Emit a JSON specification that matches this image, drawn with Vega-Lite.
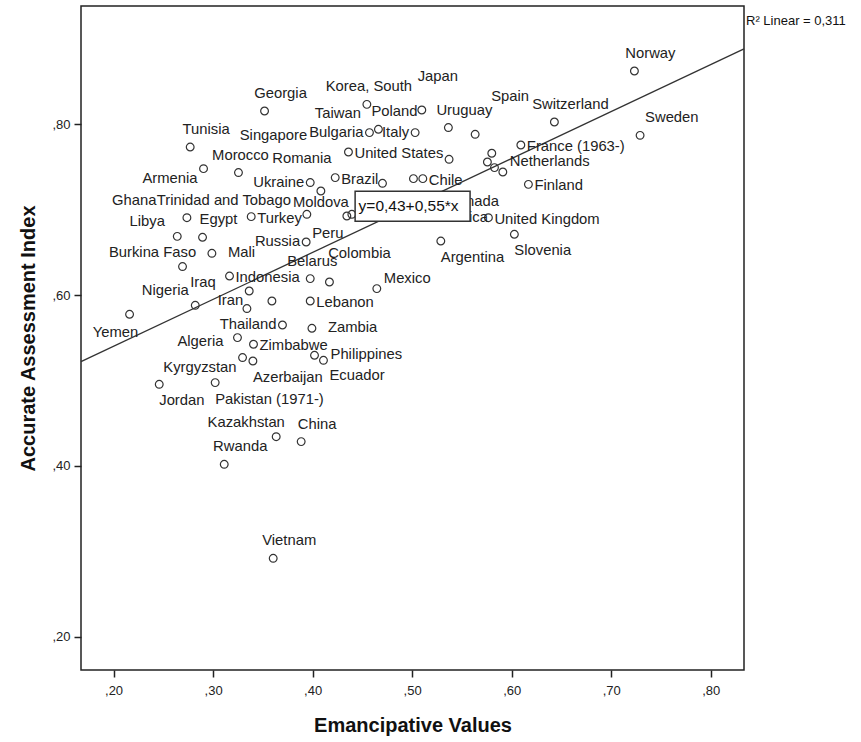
{
  "$schema": "https://vega.github.io/schema/vega-lite/v6.json",
  "width": 663,
  "height": 664,
  "autosize": {"type": "none"},
  "padding": {"left": 81, "top": 6, "right": 117, "bottom": 72},
  "background": "white",
  "config": {
    "view": {"stroke": "#222", "strokeWidth": 1.5},
    "text": {"font": "Liberation Sans", "fontSize": 14.8, "color": "#222", "baseline": "middle"}
  },
  "datasets": {
    "countries": [
      {"country": "Norway", "emancipative": 0.7233, "assessment": 0.8625},
      {"country": "Sweden", "emancipative": 0.7290, "assessment": 0.7871},
      {"country": "Switzerland", "emancipative": 0.6429, "assessment": 0.8027},
      {"country": "Spain", "emancipative": 0.5633, "assessment": 0.7883},
      {"country": "Japan", "emancipative": 0.5097, "assessment": 0.8168},
      {"country": "Korea, South", "emancipative": 0.4545, "assessment": 0.8234},
      {"country": "Taiwan", "emancipative": 0.4545, "assessment": 0.8234},
      {"country": "Poland", "emancipative": 0.4661, "assessment": 0.7942},
      {"country": "Bulgaria", "emancipative": 0.4571, "assessment": 0.7903},
      {"country": "Italy", "emancipative": 0.5030, "assessment": 0.7903},
      {"country": "United States", "emancipative": 0.4360, "assessment": 0.7676},
      {"country": "Uruguay", "emancipative": 0.5364, "assessment": 0.7962},
      {"country": "France (1963-)", "emancipative": 0.6092, "assessment": 0.7758},
      {"country": "Netherlands", "emancipative": 0.5911, "assessment": 0.7442},
      {"country": "Finland", "emancipative": 0.6168, "assessment": 0.7297},
      {"country": "Chile", "emancipative": 0.5107, "assessment": 0.7364},
      {"country": "Canada", "emancipative": 0.5291, "assessment": 0.7110},
      {"country": "South Africa", "emancipative": 0.4899, "assessment": 0.6923},
      {"country": "United Kingdom", "emancipative": 0.5766, "assessment": 0.6907},
      {"country": "Slovenia", "emancipative": 0.6027, "assessment": 0.6712},
      {"country": "Argentina", "emancipative": 0.5288, "assessment": 0.6633},
      {"country": "Georgia", "emancipative": 0.3517, "assessment": 0.8156},
      {"country": "Tunisia", "emancipative": 0.2770, "assessment": 0.7734},
      {"country": "Morocco", "emancipative": 0.3255, "assessment": 0.7435},
      {"country": "Singapore", "emancipative": 0.3255, "assessment": 0.7435},
      {"country": "Armenia", "emancipative": 0.2904, "assessment": 0.7481},
      {"country": "Romania", "emancipative": 0.4083, "assessment": 0.7219},
      {"country": "Ukraine", "emancipative": 0.3976, "assessment": 0.7318},
      {"country": "Brazil", "emancipative": 0.4227, "assessment": 0.7376},
      {"country": "Moldova", "emancipative": 0.3942, "assessment": 0.6946},
      {"country": "Turkey", "emancipative": 0.3383, "assessment": 0.6919},
      {"country": "Trinidad and Tobago", "emancipative": 0.2737, "assessment": 0.6907},
      {"country": "Libya", "emancipative": 0.2640, "assessment": 0.6688},
      {"country": "Ghana", "emancipative": 0.2640, "assessment": 0.6688},
      {"country": "Egypt", "emancipative": 0.2894, "assessment": 0.6677},
      {"country": "Russia", "emancipative": 0.3935, "assessment": 0.6622},
      {"country": "Peru", "emancipative": 0.4344, "assessment": 0.6926},
      {"country": "Mali", "emancipative": 0.2988, "assessment": 0.6489},
      {"country": "Burkina Faso", "emancipative": 0.2693, "assessment": 0.6334},
      {"country": "Indonesia", "emancipative": 0.3165, "assessment": 0.6223},
      {"country": "Belarus", "emancipative": 0.3976, "assessment": 0.6193},
      {"country": "Colombia", "emancipative": 0.4169, "assessment": 0.6153},
      {"country": "Mexico", "emancipative": 0.4645, "assessment": 0.6076},
      {"country": "Iran", "emancipative": 0.3363, "assessment": 0.6048},
      {"country": "Nigeria", "emancipative": 0.2821, "assessment": 0.5880},
      {"country": "Iraq", "emancipative": 0.3340, "assessment": 0.5842},
      {"country": "Lebanon", "emancipative": 0.3976, "assessment": 0.5931},
      {"country": "Yemen", "emancipative": 0.2161, "assessment": 0.5775},
      {"country": "Thailand", "emancipative": 0.3697, "assessment": 0.5650},
      {"country": "Zambia", "emancipative": 0.3993, "assessment": 0.5611},
      {"country": "Algeria", "emancipative": 0.3245, "assessment": 0.5502},
      {"country": "Zimbabwe", "emancipative": 0.3406, "assessment": 0.5424},
      {"country": "Philippines", "emancipative": 0.4019, "assessment": 0.5295},
      {"country": "Ecuador", "emancipative": 0.4109, "assessment": 0.5236},
      {"country": "Kyrgyzstan", "emancipative": 0.3296, "assessment": 0.5268},
      {"country": "Azerbaijan", "emancipative": 0.3400, "assessment": 0.5228},
      {"country": "Jordan", "emancipative": 0.2459, "assessment": 0.4955},
      {"country": "Pakistan (1971-)", "emancipative": 0.3021, "assessment": 0.4975},
      {"country": "Kazakhstan", "emancipative": 0.3634, "assessment": 0.4342},
      {"country": "China", "emancipative": 0.3885, "assessment": 0.4284},
      {"country": "Rwanda", "emancipative": 0.3112, "assessment": 0.4018},
      {"country": "Vietnam", "emancipative": 0.3604, "assessment": 0.2917},
      {"country": "", "emancipative": 0.5800, "assessment": 0.7661},
      {"country": "", "emancipative": 0.5756, "assessment": 0.7559},
      {"country": "", "emancipative": 0.5827, "assessment": 0.7493},
      {"country": "", "emancipative": 0.5371, "assessment": 0.7590},
      {"country": "", "emancipative": 0.5013, "assessment": 0.7364},
      {"country": "", "emancipative": 0.4702, "assessment": 0.7309},
      {"country": "", "emancipative": 0.4394, "assessment": 0.6946},
      {"country": "", "emancipative": 0.3591, "assessment": 0.5931}
    ],
    "fit": [
      {"emancipative": 0.1673, "assessment": 0.5220},
      {"emancipative": 0.8334, "assessment": 0.8884}
    ],
    "equation": [
      {"label": "y=0,43+0,55*x", "emancipative": 0.4427, "emancipative2": 0.5582, "assessment": 0.6864, "assessment2": 0.7216}
    ],
    "rsq": [
      {"label": "R² Linear = 0,311", "emancipative": 0.8334, "assessment": 0.9207}
    ]
  },
  "encoding": {
    "x": {
      "field": "emancipative", "type": "quantitative",
      "scale": {"domain": [0.1673, 0.8334], "nice": false, "zero": false},
      "axis": {
        "title": "Emancipative Values",
        "values": [0.2, 0.3, 0.4, 0.5, 0.6, 0.7, 0.8],
        "labelExpr": "replace(format(datum.value, '.2f'), '0.', ',')",
        "grid": false, "domain": false,
        "tickSize": 7, "tickWidth": 1.5, "tickColor": "#222",
        "labelFont": "Liberation Sans", "labelFontSize": 13, "labelColor": "#222", "labelPadding": 7,
        "titleFont": "Liberation Sans", "titleFontSize": 20, "titleFontWeight": "bold", "titleColor": "#111", "titlePadding": 18
      }
    },
    "y": {
      "field": "assessment", "type": "quantitative",
      "scale": {"domain": [0.1609, 0.9386], "nice": false, "zero": false},
      "axis": {
        "title": "Accurate Assessment Index",
        "values": [0.2, 0.4, 0.6, 0.8],
        "labelExpr": "replace(format(datum.value, '.2f'), '0.', ',')",
        "grid": false, "domain": false,
        "tickSize": 7, "tickWidth": 1.5, "tickColor": "#222",
        "labelFont": "Liberation Sans", "labelFontSize": 13, "labelColor": "#222", "labelPadding": 4,
        "titleFont": "Liberation Sans", "titleFontSize": 20, "titleFontWeight": "bold", "titleColor": "#111", "titlePadding": 13
      }
    }
  },
  "layer": [
    {
      "data": {"name": "fit"},
      "mark": {"type": "line", "color": "#333", "strokeWidth": 1.3}
    },
    {
      "data": {"name": "countries"},
      "transform": [{"aggregate": [{"op": "count", "as": "cases"}], "groupby": ["emancipative", "assessment"]}],
      "mark": {"type": "point", "shape": "circle", "filled": false, "size": 60, "stroke": "#333", "strokeWidth": 1.2, "opacity": 1}
    },
    {
      "data": {"name": "countries"},
      "transform": [{"filter": {"field": "country", "oneOf": ["Norway", "Switzerland", "Uruguay", "Georgia", "Tunisia", "Poland", "Egypt", "China", "Rwanda", "Vietnam"]}}],
      "mark": {"type": "text", "align": "center", "dx": 16, "dy": -17},
      "encoding": {"text": {"field": "country"}}
    },
    {
      "data": {"name": "countries"},
      "transform": [{"filter": {"field": "country", "oneOf": ["Moldova"]}}],
      "mark": {"type": "text", "align": "center", "dx": 14, "dy": -11},
      "encoding": {"text": {"field": "country"}}
    },
    {
      "data": {"name": "countries"},
      "transform": [{"filter": {"field": "country", "oneOf": ["Trinidad and Tobago"]}}],
      "mark": {"type": "text", "align": "center", "dx": 37, "dy": -17},
      "encoding": {"text": {"field": "country"}}
    },
    {
      "data": {"name": "countries"},
      "transform": [{"filter": {"field": "country", "oneOf": ["Korea, South", "Morocco", "Belarus"]}}],
      "mark": {"type": "text", "align": "center", "dx": 2, "dy": -17},
      "encoding": {"text": {"field": "country"}}
    },
    {
      "data": {"name": "countries"},
      "transform": [{"filter": {"field": "country", "oneOf": ["Libya", "Burkina Faso", "Kazakhstan", "Nigeria"]}}],
      "mark": {"type": "text", "align": "center", "dx": -30, "dy": -14},
      "encoding": {"text": {"field": "country"}}
    },
    {
      "data": {"name": "countries"},
      "transform": [{"filter": {"field": "country", "oneOf": ["United States", "Chile", "Finland", "United Kingdom", "Turkey", "Lebanon", "Zimbabwe", "Brazil", "Indonesia", "France (1963-)", "Canada", "South Africa"]}}],
      "mark": {"type": "text", "align": "left", "dx": 6, "dy": 2},
      "encoding": {"text": {"field": "country"}}
    },
    {
      "data": {"name": "countries"},
      "transform": [{"filter": {"field": "country", "oneOf": ["Mali", "Zambia", "Philippines"]}}],
      "mark": {"type": "text", "align": "left", "dx": 16, "dy": 0},
      "encoding": {"text": {"field": "country"}}
    },
    {
      "data": {"name": "countries"},
      "transform": [{"filter": {"field": "country", "oneOf": ["Netherlands", "Mexico"]}}],
      "mark": {"type": "text", "align": "left", "dx": 7, "dy": -10},
      "encoding": {"text": {"field": "country"}}
    },
    {
      "data": {"name": "countries"},
      "transform": [{"filter": {"field": "country", "oneOf": ["Bulgaria", "Italy", "Ukraine", "Russia", "Thailand"]}}],
      "mark": {"type": "text", "align": "right", "dx": -6, "dy": 0},
      "encoding": {"text": {"field": "country"}}
    },
    {
      "data": {"name": "countries"},
      "transform": [{"filter": {"field": "country", "oneOf": ["Taiwan", "Armenia", "Kyrgyzstan", "Iran"]}}],
      "mark": {"type": "text", "align": "right", "dx": -6, "dy": 10},
      "encoding": {"text": {"field": "country"}}
    },
    {
      "data": {"name": "countries"},
      "transform": [{"filter": {"field": "country", "oneOf": ["Algeria"]}}],
      "mark": {"type": "text", "align": "right", "dx": -14, "dy": 4},
      "encoding": {"text": {"field": "country"}}
    },
    {
      "data": {"name": "countries"},
      "transform": [{"filter": {"field": "country", "oneOf": ["Jordan", "Pakistan (1971-)", "Argentina", "Slovenia", "Azerbaijan"]}}],
      "mark": {"type": "text", "align": "left", "dx": 0, "dy": 17},
      "encoding": {"text": {"field": "country"}}
    },
    {
      "data": {"name": "countries"},
      "transform": [{"filter": {"field": "country", "oneOf": ["Ecuador"]}}],
      "mark": {"type": "text", "align": "left", "dx": 6, "dy": 16},
      "encoding": {"text": {"field": "country"}}
    },
    {
      "data": {"name": "countries"},
      "transform": [{"filter": {"field": "country", "oneOf": ["Sweden"]}}],
      "mark": {"type": "text", "align": "left", "dx": 5, "dy": -17},
      "encoding": {"text": {"field": "country"}}
    },
    {
      "data": {"name": "countries"},
      "transform": [{"filter": {"field": "country", "oneOf": ["Japan"]}}],
      "mark": {"type": "text", "align": "center", "dx": 16, "dy": -33},
      "encoding": {"text": {"field": "country"}}
    },
    {
      "data": {"name": "countries"},
      "transform": [{"filter": {"field": "country", "oneOf": ["Spain", "Singapore"]}}],
      "mark": {"type": "text", "align": "center", "dx": 35, "dy": -37},
      "encoding": {"text": {"field": "country"}}
    },
    {
      "data": {"name": "countries"},
      "transform": [{"filter": {"field": "country", "oneOf": ["Romania"]}}],
      "mark": {"type": "text", "align": "center", "dx": -19, "dy": -32},
      "encoding": {"text": {"field": "country"}}
    },
    {
      "data": {"name": "countries"},
      "transform": [{"filter": {"field": "country", "oneOf": ["Peru"]}}],
      "mark": {"type": "text", "align": "center", "dx": -19, "dy": 18},
      "encoding": {"text": {"field": "country"}}
    },
    {
      "data": {"name": "countries"},
      "transform": [{"filter": {"field": "country", "oneOf": ["Iraq"]}}],
      "mark": {"type": "text", "align": "center", "dx": -44, "dy": -26},
      "encoding": {"text": {"field": "country"}}
    },
    {
      "data": {"name": "countries"},
      "transform": [{"filter": {"field": "country", "oneOf": ["Yemen"]}}],
      "mark": {"type": "text", "align": "center", "dx": -14, "dy": 19},
      "encoding": {"text": {"field": "country"}}
    },
    {
      "data": {"name": "countries"},
      "transform": [{"filter": {"field": "country", "oneOf": ["Ghana"]}}],
      "mark": {"type": "text", "align": "center", "dx": -43, "dy": -35},
      "encoding": {"text": {"field": "country"}}
    },
    {
      "data": {"name": "countries"},
      "transform": [{"filter": {"field": "country", "oneOf": ["Colombia"]}}],
      "mark": {"type": "text", "align": "center", "dx": 30, "dy": -28},
      "encoding": {"text": {"field": "country"}}
    },
    {
      "data": {"name": "equation"},
      "mark": {"type": "rect", "fill": "white", "stroke": "#333", "strokeWidth": 1.5},
      "encoding": {"x2": {"field": "emancipative2"}, "y2": {"field": "assessment2"}}
    },
    {
      "data": {"name": "equation"},
      "mark": {"type": "text", "align": "left", "dx": 3.5, "dy": 15, "fontSize": 15.5, "color": "#111"},
      "encoding": {"y": {"field": "assessment2", "type": "quantitative"}, "text": {"field": "label"}}
    },
    {
      "data": {"name": "rsq"},
      "mark": {"type": "text", "align": "left", "dx": 2, "fontSize": 13, "color": "#111"},
      "encoding": {"text": {"field": "label"}}
    }
  ]
}
